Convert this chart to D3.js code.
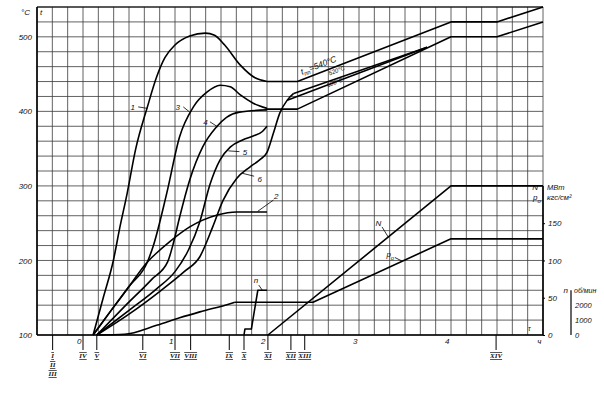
<!DOCTYPE html>
<html><head><meta charset="utf-8">
<script src="https://cdn.jsdelivr.net/npm/d3@7"></script>
<style>
body{margin:0;background:#fff;}
svg text{font-family:"Liberation Sans",Arial,sans-serif;font-style:italic;fill:#111;}
</style></head><body>
<svg id="c" width="604" height="393"></svg>
<script>
// ---- tick labels ----
const tempTicks = [100, 200, 300, 400, 500];
const hourTicks = [0, 1, 2, 3, 4, 5];
const hourLabels = ["0", "1", "2", "3", "4", "ч"];
const rightTicks = [0, 50, 100, 150];
const nTicks = [0, 1000, 2000];
const romanLabels = [["I","II","III"],["IV"],["V"],["VI"],["VII"],["VIII"],["IX"],["X"],["XI"],["XII"],["XIII"],["XIV"]];
const romanHours = [-0.33, 0, 0.15, 0.65, 1.0, 1.17, 1.59, 1.75, 2.01, 2.26, 2.41, 4.49];

// ---- series (hours, °C) ----
const curve1 = [[0.11,100],[0.22,150],[0.33,200],[0.40,244],[0.48,290],[0.57,348],[0.70,406],[0.80,446],[0.89,472],[1.0,489],[1.16,501],[1.33,505],[1.43,502],[1.54,489],[1.71,462],[1.87,445],[2.0,440]];
const curve2 = [[0.11,100],[0.3,132],[0.5,165],[0.70,198],[0.8,210],[0.95,226],[1.16,245],[1.46,261],[1.67,265],[2.0,265]];
const curve3 = [[0.11,100],[0.3,132],[0.5,165],[0.70,198],[0.76,218],[0.91,290],[1.05,366],[1.2,406],[1.35,426],[1.49,435],[1.6,433],[1.71,422],[1.85,411],[2.0,404]];
const curve4 = [[0.15,100],[0.45,138],[0.75,175],[0.92,198],[0.98,222],[1.05,258],[1.16,308],[1.3,352],[1.45,379],[1.56,392],[1.7,399],[2.0,402]];
const curve5 = [[0.15,100],[0.5,133],[0.8,162],[1.0,185],[1.15,215],[1.27,252],[1.38,302],[1.49,335],[1.6,352],[1.74,362],[1.85,367],[1.95,373],[2.0,380]];
const curve6 = [[0.15,100],[0.5,128],[0.85,160],[1.1,185],[1.27,205],[1.41,245],[1.52,280],[1.67,310],[1.81,325],[1.92,335],[2.0,345],[2.07,371],[2.14,398],[2.22,415],[2.29,424]];
const lineA = [[2.0,440],[2.33,440],[4.0,520],[4.5,520],[5.0,540]];
const lineB = [[2.0,403],[2.33,403],[4.0,500],[4.5,500],[5.0,520]];
const wedgeUpper = [[2.29,424],[3.74,486]];
const wedgeLower = [[2.22,415],[3.74,486]];
// power N (MW) and pressure p_o (kgf/cm2)
const powerN = [[2.01,0],[4.0,200],[5.0,200]];
const pressureP = [[0.17,0],[0.45,1],[0.8,13],[1.05,23],[1.27,31],[1.6,42],[1.65,44],[2.5,44],[4.0,129],[5.0,129]];
// speed n (rpm)
const speedN = [[1.75,0],[1.76,400],[1.83,400],[1.9,3000],[2.0,3000]];

const svg = d3.select("#c");
const x = d3.scaleLinear().domain([-0.5, 5]).range([37, 543]);
const y = d3.scaleLinear().domain([100, 540]).range([335, 7]);
const yR = d3.scaleLinear().domain([0, 200]).range([y(100), y(300)]);
const yN = d3.scaleLinear().domain([0, 3000]).range([y(100), y(160)]);

// grid
const gridX = d3.range(0, 34).map(i => -0.5 + i / 6);
const gridY = d3.range(100, 541, 20);
svg.append("g").selectAll("line").data(gridX).join("line")
  .attr("x1", d => x(d)).attr("x2", d => x(d)).attr("y1", y(540)).attr("y2", y(100))
  .attr("stroke", "#3a3a3a").attr("stroke-width", 0.8);
svg.append("g").selectAll("line").data(gridY).join("line")
  .attr("x1", x(-0.5)).attr("x2", x(5)).attr("y1", d => y(d)).attr("y2", d => y(d))
  .attr("stroke", "#3a3a3a").attr("stroke-width", 0.8);

// frame
svg.append("line").attr("x1", x(-0.5)).attr("x2", x(-0.5)).attr("y1", y(540)).attr("y2", y(100)).attr("stroke", "#000").attr("stroke-width", 1.6);
svg.append("line").attr("x1", x(-0.5)).attr("x2", x(5)).attr("y1", y(100)).attr("y2", y(100)).attr("stroke", "#000").attr("stroke-width", 1.6);
svg.append("line").attr("x1", x(-0.5)).attr("x2", x(5)).attr("y1", y(540)).attr("y2", y(540)).attr("stroke", "#000").attr("stroke-width", 1.1);
svg.append("line").attr("x1", x(5)).attr("x2", x(5)).attr("y1", yR(200)).attr("y2", yR(0)).attr("stroke", "#000").attr("stroke-width", 1.6);

// left axis labels
const la = svg.append("g").attr("transform", `translate(${x(-0.5)},0)`)
  .call(d3.axisLeft(y).tickValues(tempTicks).tickSize(0).tickPadding(5));
la.select(".domain").remove();
la.selectAll("text").attr("font-size", 8).attr("font-family", null).attr("dy", "0.32em");
svg.append("text").attr("x", 21).attr("y", 15).attr("font-size", 8).text("°C");
svg.append("text").attr("x", 40).attr("y", 15).attr("font-size", 8).text("t");

// hour labels
const ha = svg.append("g").attr("transform", `translate(0,${y(100)})`)
  .call(d3.axisBottom(x).tickValues(hourTicks).tickSize(0).tickPadding(3).tickFormat((d, i) => hourLabels[i]));
ha.select(".domain").remove();
ha.selectAll("text").attr("font-size", 8).attr("font-family", null).attr("text-anchor", "end").attr("dx", -2);

// roman markers
const rg = svg.append("g").selectAll("g").data(romanHours).join("g")
  .attr("transform", d => `translate(${x(d)},${y(100)})`);
rg.append("line").attr("y1", 0).attr("y2", 15).attr("stroke", "#000").attr("stroke-width", 1);
rg.each(function(d, i) {
  const g = d3.select(this);
  romanLabels[i].forEach((s, k) => {
    g.append("text").attr("y", 23 + k * 9).attr("text-anchor", "middle")
      .attr("font-size", 7).style("font-family", "'Liberation Serif',serif").style("font-weight", "bold")
      .style("text-decoration", "underline overline")
      .text(s);
  });
});

// right axis labels
const ra = svg.append("g").attr("transform", `translate(${x(5)},0)`)
  .call(d3.axisRight(yR).tickValues(rightTicks).tickSize(2).tickPadding(3));
ra.select(".domain").remove();
ra.selectAll("text").attr("font-size", 8).attr("font-family", null);
svg.append("text").attr("x", 538).attr("y", yR(200) + 4).attr("font-size", 8).attr("text-anchor", "end").text("N");
svg.append("text").attr("x", 547).attr("y", yR(200) + 4).attr("font-size", 7.5).text("МВт");
const pl = svg.append("text").attr("x", 533).attr("y", yR(200) + 14).attr("font-size", 8);
pl.append("tspan").text("p");
pl.append("tspan").attr("font-size", 6).attr("dy", 3).text("o");
svg.append("text").attr("x", 547).attr("y", yR(200) + 14).attr("font-size", 7.5).text("кгс/см²");

// n axis
const nx = 571;
const na = svg.append("g").attr("transform", `translate(${nx},0)`)
  .call(d3.axisRight(yN).tickValues(nTicks).tickSize(0).tickPadding(4).tickFormat(d3.format("d")));
na.select(".domain").remove();
na.selectAll("text").attr("font-size", 7.5).attr("font-family", null);
svg.append("line").attr("x1", nx).attr("x2", nx).attr("y1", yN(3000)).attr("y2", yN(0)).attr("stroke", "#000").attr("stroke-width", 1.2);
svg.append("text").attr("x", nx - 3).attr("y", yN(3000) + 3).attr("font-size", 8).attr("text-anchor", "end").text("n");
svg.append("text").attr("x", nx + 3).attr("y", yN(3000) + 3).attr("font-size", 7).text("об/мин");
svg.append("text").attr("x", x(4.85)).attr("y", yN(300)).attr("font-size", 7).attr("text-anchor", "middle").text("τ");

// curves
const smooth = d3.line().x(d => x(d[0])).y(d => y(d[1])).curve(d3.curveMonotoneX);
const smoothR = d3.line().x(d => x(d[0])).y(d => yR(d[1])).curve(d3.curveMonotoneX);
const straight = d3.line().x(d => x(d[0])).y(d => y(d[1]));
const straightR = d3.line().x(d => x(d[0])).y(d => yR(d[1]));
const straightN = d3.line().x(d => x(d[0])).y(d => yN(d[1]));
const draw = (p) => svg.append("path").attr("d", p).attr("fill", "none").attr("stroke", "#000").attr("stroke-width", 1.6).attr("stroke-linejoin", "round");
[curve1, curve2, curve3, curve4, curve5, curve6].forEach(c => draw(smooth(c)));
[lineA, lineB, wedgeUpper, wedgeLower].forEach(c => draw(straight(c)));
draw(straightR(powerN));
draw(smoothR(pressureP.slice(0, 7)));
draw(straightR(pressureP.slice(6)));
draw(straightN(speedN));

// curve labels with leaders (data coords)
const curveLabels = [
  {t: "1", at: [0.54, 406], a: [0.60, 406], b: [0.70, 404]},
  {t: "3", at: [1.03, 406], a: [1.09, 406], b: [1.16, 399]},
  {t: "4", at: [1.33, 386], a: [1.38, 386], b: [1.467, 379]},
  {t: "5", at: [1.76, 345], a: [1.70, 346], b: [1.58, 347]},
  {t: "6", at: [1.92, 309], a: [1.86, 313], b: [1.73, 317]},
  {t: "2", at: [2.10, 286], a: [2.07, 281], b: [1.90, 266]}
];
curveLabels.forEach(l => {
  svg.append("text").attr("x", x(l.at[0])).attr("y", y(l.at[1]) + 3).attr("font-size", 8).attr("text-anchor", "middle").text(l.t);
  svg.append("line").attr("x1", x(l.a[0])).attr("y1", y(l.a[1])).attr("x2", x(l.b[0])).attr("y2", y(l.b[1])).attr("stroke", "#000").attr("stroke-width", 0.8);
});
// n label
svg.append("text").attr("x", x(1.88)).attr("y", yN(3500)).attr("font-size", 8).attr("text-anchor", "middle").text("n");
svg.append("line").attr("x1", x(1.91)).attr("y1", yN(3350)).attr("x2", x(1.95)).attr("y2", yN(3000)).attr("stroke", "#000").attr("stroke-width", 0.8);
// N label
svg.append("text").attr("x", x(3.21)).attr("y", yR(150) + 3).attr("font-size", 8).attr("text-anchor", "middle").text("N");
svg.append("line").attr("x1", x(3.25)).attr("y1", yR(145)).attr("x2", x(3.32)).attr("y2", yR(131)).attr("stroke", "#000").attr("stroke-width", 0.8);
// p_o label
const pol = svg.append("text").attr("x", x(3.34)).attr("y", yR(105)).attr("font-size", 8).attr("text-anchor", "middle");
pol.append("tspan").text("p");
pol.append("tspan").attr("font-size", 6).attr("dy", 3).text("o");
svg.append("line").attr("x1", x(3.39)).attr("y1", yR(104)).attr("x2", x(3.47)).attr("y2", yR(99)).attr("stroke", "#000").attr("stroke-width", 0.8);

// rotated temperature labels
const ang = Math.atan2(y(520) - y(440), x(4.0) - x(2.33)) * 180 / Math.PI;
const tl = svg.append("text").attr("font-size", 8.5)
  .attr("transform", `translate(${x(2.38)},${y(449)}) rotate(${ang})`);
tl.append("tspan").text("t");
tl.append("tspan").attr("font-size", 6).attr("dy", 2).text("пп");
tl.append("tspan").attr("dy", -2).text("=540°C");
svg.append("text").attr("font-size", 6)
  .attr("transform", `translate(${x(2.68)},${y(448)}) rotate(${ang})`).text("520°C");
svg.append("text").attr("font-size", 6)
  .attr("transform", `translate(${x(2.66)},${y(432)}) rotate(${ang})`).text("500°C");
</script>
</body></html>
